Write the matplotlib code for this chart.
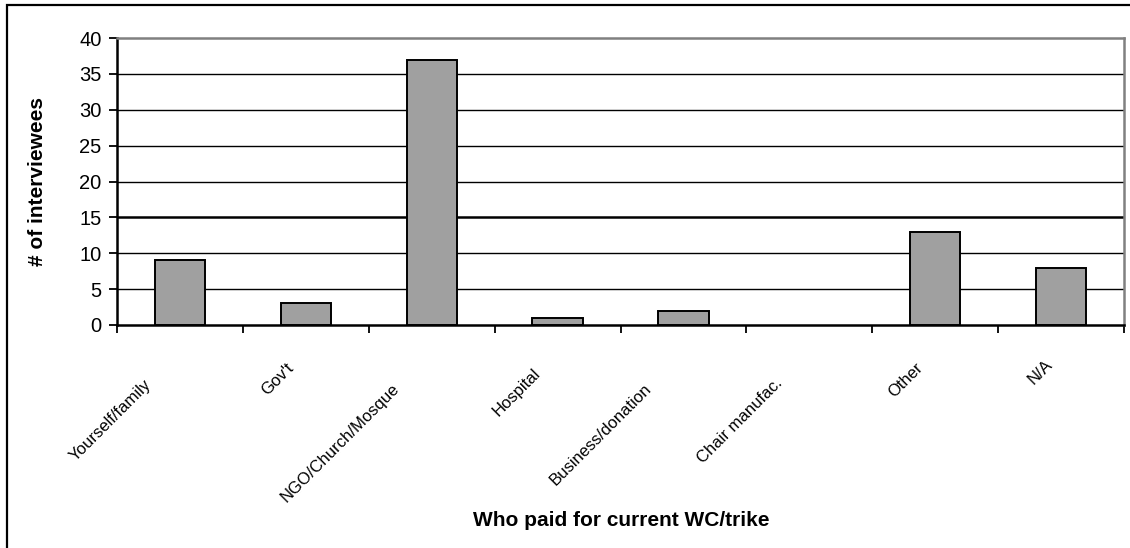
#!/usr/bin/env python3
"""Bar chart: who paid for the current wheelchair / trike (Excel-style look)."""

import matplotlib
matplotlib.use("Agg")
import matplotlib.pyplot as plt
from matplotlib.patches import Rectangle
from matplotlib.transforms import ScaledTranslation

categories = ["Yourself/family", "Gov't", "NGO/Church/Mosque", "Hospital",
              "Business/donation", "Chair manufac.", "Other", "N/A"]
counts = [9, 3, 37, 1, 2, 0, 13, 8]
y_ticks = [0, 5, 10, 15, 20, 25, 30, 35, 40]

plt.rcParams["font.family"] = ["Liberation Sans", "DejaVu Sans"]

W, H = 1130, 548
fig = plt.figure(figsize=(W / 100, H / 100), dpi=100)
ax = fig.add_axes([117 / W, 1 - 325 / H, (1124 - 117) / W, (325 - 38) / H])

x = list(range(len(categories)))
# zero-height bars leave no mark in the original
ax.bar(x, counts, width=0.4, color="#a0a0a0", edgecolor="black",
       linewidth=[1.4 if c > 0 else 0 for c in counts], zorder=3)

ax.set_xlim(-0.5, len(categories) - 0.5)
ax.set_ylim(0, 40)
ax.set_yticks(y_ticks)
ax.set_yticklabels([str(v) for v in y_ticks], fontsize=14.5)
for v in y_ticks[1:-1]:
    ax.axhline(v, color="black", lw=1.8 if v == 15 else 1.0, zorder=1)

# ticks on the category boundaries, labels placed by hand below
ax.set_xticks([i - 0.5 for i in range(len(categories) + 1)])
ax.set_xticklabels([])
ax.tick_params(axis="x", direction="out", length=6, width=1.3, color="black")
ax.tick_params(axis="y", direction="out", length=6, width=1.3, color="black", pad=5)

for side in ("left", "bottom"):
    ax.spines[side].set_color("black")
    ax.spines[side].set_linewidth(1.8)
for side in ("top", "right"):
    ax.spines[side].set_color("#808080")
    ax.spines[side].set_linewidth(1.8)

# rotated category labels: longer labels sit a little further down-left
px = fig.dpi_scale_trans
for i, name in enumerate(categories):
    n = len(name)
    dx = (-6 - 1.7 * n) / 100
    dy = -(357 - 325 + 1.7 * n) / 100
    tr = ax.get_xaxis_transform() + ScaledTranslation(dx, dy, px)
    ax.text(i, 0, name, transform=tr, rotation=45, rotation_mode="anchor",
            ha="right", va="center", fontsize=12)

fig.text(38 / W, 1 - 181 / H, "# of interviewees", rotation=90,
         ha="center", va="center", fontsize=15, weight="bold")
fig.text(621 / W, 1 - 521 / H, "Who paid for current WC/trike",
         ha="center", va="center", fontsize=15, weight="bold")

# outer chart frame (right/bottom edges fall outside the picture)
fig.patches.append(Rectangle((6.5 / W, -0.1), 1.2, 1 - 5.5 / H + 0.1,
                             transform=fig.transFigure, fill=False,
                             edgecolor="black", linewidth=1.6))

fig.savefig("out.png", dpi=100)
